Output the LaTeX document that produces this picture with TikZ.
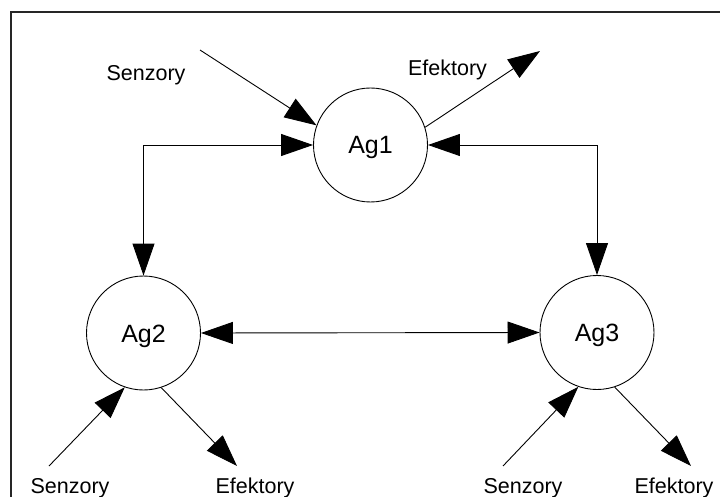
\documentclass[tikz,border=0pt]{standalone}
\usepackage{fontspec}
\setmainfont{Liberation Sans}
\usetikzlibrary{arrows.meta}
\tikzset{
  agent/.style={draw, circle, line width=0.9pt, minimum size=114pt, inner sep=0pt,
    font=\fontsize{25}{28}\selectfont, text height=18pt, text depth=0pt},
  lbl/.style={anchor=base, inner sep=0pt, font=\fontsize{21.5}{24}\selectfont},
  conn/.style={line width=0.9pt, -{Triangle[length=32pt,width=22pt]}},
  biconn/.style={line width=0.9pt, {Triangle[length=32pt,width=22pt]}-{Triangle[length=32pt,width=22pt]}},
  frame/.style={line width=1.4pt, draw=black!85}
}
\begin{document}
\begin{tikzpicture}[x=1pt,y=-1pt]
\useasboundingbox (0,0) rectangle (720,497);
\draw[frame] (11,497) -- (11,12) -- (720,12);
\node[agent] (ag1) at (370.5,145) {Ag1};
\node[agent] (ag2) at (143.5,333) {Ag2};
\node[agent] (ag3) at (597,332.5) {Ag3};
% labels
\node[lbl] (s1) at (146,81) {Senzory};
\node[lbl] (e1) at (447.5,76) {Efektory};
\node[lbl] (s2) at (70,493) {Senzory};
\node[lbl] (e2) at (255,493) {Efektory};
\node[lbl] (s3) at (523,493) {Senzory};
\node[lbl] (e3) at (674,493) {Efektory};
% free ends
\coordinate (s1end) at (200,50);
\coordinate (e1end) at (540,51);
\coordinate (s2end) at (49,466);
\coordinate (e2end) at (237,466);
\coordinate (s3end) at (503,466);
\coordinate (e3end) at (691,466);
% connectors
\draw[biconn] (ag1.west) -| (ag2.north);
\draw[biconn] (ag1.east) -| (ag3.north);
\draw[biconn] (ag2.east) -- (ag3.west);
\draw[conn] (s1end) -- (ag1.160);
\draw[conn] (ag1.18) -- (e1end);
\draw[conn] (s2end) -- (ag2.251);
\draw[conn] (ag2.288) -- (e2end);
\draw[conn] (s3end) -- (ag3.251);
\draw[conn] (ag3.288) -- (e3end);
\end{tikzpicture}
\end{document}
